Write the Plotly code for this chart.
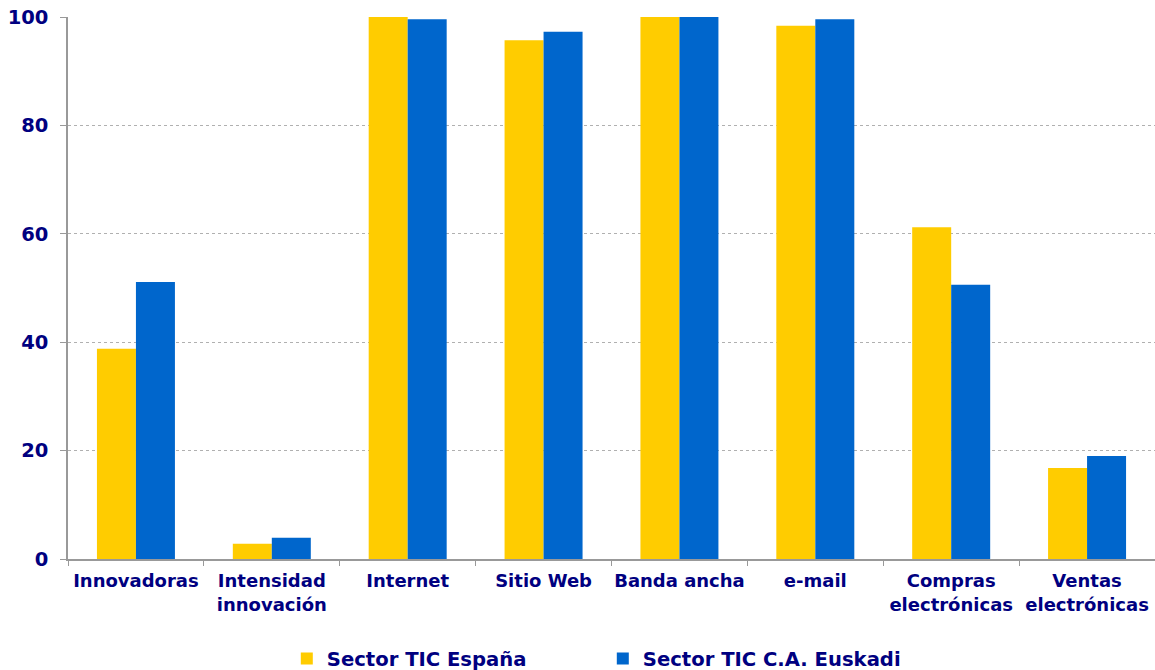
import plotly.graph_objects as go

categories = ["Innovadoras", "Intensidad<br>innovación", "Internet", "Sitio Web",
              "Banda ancha", "e-mail", "Compras<br>electrónicas", "Ventas<br>electrónicas"]
espana = [38.8, 2.8, 100.0, 95.7, 100.0, 98.4, 61.2, 16.8]
euskadi = [51.1, 3.9, 99.6, 97.3, 100.0, 99.6, 50.6, 19.0]
y_ticks = [0, 20, 40, 60, 80, 100]

navy = "#000080"
font_family = "Verdana, DejaVu Sans, sans-serif"

fig = go.Figure()
fig.add_trace(go.Bar(x=categories, y=espana, name="Sector TIC España",
                     marker=dict(color="#FFCC00", line=dict(width=0))))
fig.add_trace(go.Bar(x=categories, y=euskadi, name="Sector TIC C.A. Euskadi",
                     marker=dict(color="#0066CC", line=dict(width=0))))

fig.update_layout(
    width=1155, height=670,
    margin=dict(l=68, r=0, t=17, b=111, autoexpand=False),
    paper_bgcolor="white", plot_bgcolor="white",
    barmode="group", bargap=0.426, bargroupgap=0,
    font=dict(family=font_family, color=navy),
    showlegend=True,
    legend=dict(orientation="h", x=0.492, xanchor="center", y=-0.184, yanchor="middle",
                font=dict(size=19.6, color=navy, family=font_family, weight="bold"),
                entrywidth=271, entrywidthmode="pixels", itemsizing="constant",
                bgcolor="rgba(0,0,0,0)"),
)
fig.update_xaxes(
    showgrid=False, showline=True, linecolor="#999999", linewidth=1.5,
    ticks="outside", tickson="boundaries", ticklen=5, tickcolor="#999999",
    ticklabelstandoff=5, automargin=False, tickangle=0, ticklabeloverflow="allow",
    tickfont=dict(size=18, color=navy, family=font_family, weight="bold"),
)
fig.update_yaxes(
    range=[0, 100], tickvals=y_ticks, showgrid=True, gridcolor="#b0b0b0",
    griddash="dot", gridwidth=1, zeroline=False,
    showline=True, linecolor="#999999", linewidth=1.5,
    ticks="outside", ticklen=6, tickcolor="#999999", ticklabelstandoff=8,
    automargin=False, ticklabeloverflow="allow",
    tickfont=dict(size=19.5, color=navy, family=font_family, weight="bold"),
)

fig.write_html("out.html", config={"displayModeBar": False},
               post_script="document.body.style.margin='0px';document.body.style.overflow='hidden';")
